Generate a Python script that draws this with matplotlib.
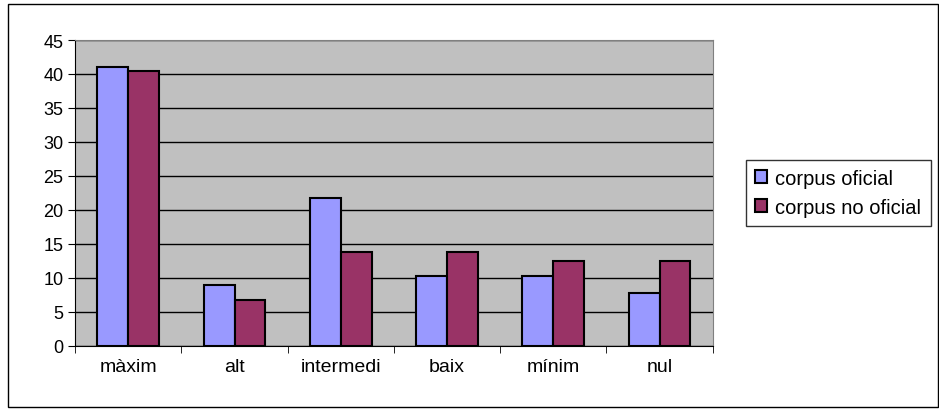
import numpy as np
import matplotlib.pyplot as plt
from matplotlib.patches import Rectangle

plt.rcParams['font.family'] = ['Liberation Sans', 'DejaVu Sans']

categories = ['màxim', 'alt', 'intermedi', 'baix', 'mínim', 'nul']
oficial = [41.0, 9.0, 21.8, 10.3, 10.3, 7.8]
no_oficial = [40.4, 6.8, 13.8, 13.8, 12.5, 12.5]
series_names = ['corpus oficial', 'corpus no oficial']

fig = plt.figure(figsize=(9.39, 4.10), dpi=100)
ax = fig.add_axes([0.080, 0.154, 0.679, 0.746])
ax.set_facecolor('#C0C0C0')

x = np.arange(len(categories))
w = 0.29
b1 = ax.bar(x - w / 2, oficial, w, color='#9999FF', edgecolor='black', linewidth=1.5,
            label=series_names[0], zorder=3)
b2 = ax.bar(x + w / 2, no_oficial, w, color='#993366', edgecolor='black', linewidth=1.5,
            label=series_names[1], zorder=3)

ax.set_xlim(-0.5, len(categories) - 0.5)
ax.set_ylim(0, 45)
ax.set_yticks(range(0, 46, 5))
ax.yaxis.grid(True, color='black', linewidth=1, zorder=1)
ax.set_axisbelow(True)
ax.set_xticks(x)
ax.set_xticklabels(categories, fontsize=14)
ax.set_xticks(np.arange(-0.5, len(categories), 1), minor=True)
ax.tick_params(axis='x', which='major', length=0, pad=9)
ax.tick_params(axis='x', which='minor', length=5, direction='out', color='black')
ax.tick_params(axis='y', labelsize=13, length=5, direction='out')
for s in ['top', 'right']:
    ax.spines[s].set_color('#808080')
for s in ['left', 'bottom']:
    ax.spines[s].set_color('black')

leg = fig.legend(handles=[b1, b2], loc='center left', bbox_to_anchor=(0.784, 0.527),
                 fontsize=14.5, frameon=True, fancybox=False, edgecolor='black',
                 handlelength=0.6, handleheight=0.6, handletextpad=0.4,
                 labelspacing=0.5, borderpad=0.45)
leg.get_frame().set_linewidth(1)

# outer chart border
fig.patches.append(Rectangle((0.009, 0.004), 0.99, 0.984, transform=fig.transFigure,
                             fill=False, edgecolor='black', linewidth=1))

fig.savefig('out.png', dpi=100)
